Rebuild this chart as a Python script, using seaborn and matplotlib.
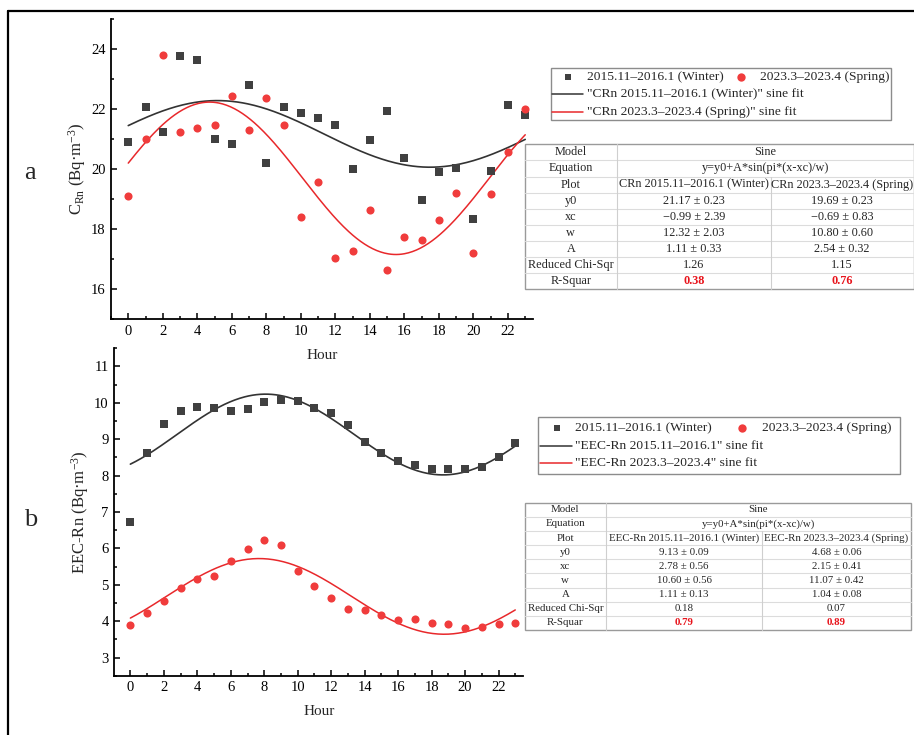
import numpy as np
import pandas as pd
import seaborn as sns
import matplotlib
matplotlib.use("Agg")
import matplotlib.pyplot as plt
from matplotlib.patches import Rectangle
from matplotlib.lines import Line2D
from matplotlib.ticker import MultipleLocator

# ---- data ----
HOURS = list(range(24))

crn_winter = [20.89, 22.05, 21.23, 23.75, 23.64, 21.00, 20.84, 22.80, 20.20, 22.08,
              21.85, 21.69, 21.45, 20.01, 20.97, 21.92, 20.38, 18.95, 19.90, 20.03,
              18.33, 19.93, 22.14, 21.81]
crn_spring = [19.11, 21.00, 23.80, 21.23, 21.35, 21.45, 22.42, 21.29, 22.36, 21.45,
              18.41, 19.57, 17.03, 17.25, 18.64, 16.62, 17.72, 17.64, 18.31, 19.20,
              17.21, 19.15, 20.56, 22.01]
eec_winter = [6.72, 8.63, 9.43, 9.78, 9.88, 9.87, 9.77, 9.84, 10.03, 10.08,
              10.05, 9.86, 9.71, 9.39, 8.93, 8.61, 8.40, 8.28, 8.17, 8.18,
              8.17, 8.24, 8.52, 8.90]
eec_spring = [3.90, 4.22, 4.56, 4.90, 5.17, 5.25, 5.65, 5.99, 6.24, 6.08,
              5.39, 4.97, 4.63, 4.33, 4.30, 4.17, 4.04, 4.06, 3.94, 3.92,
              3.82, 3.85, 3.93, 3.94]

# sine fit parameters (winter, spring) and their errors, from the tables
crn_y0, crn_y0_err = [21.17, 19.69], [0.23, 0.23]
crn_xc, crn_xc_err = [-0.99, -0.69], [2.39, 0.83]
crn_w, crn_w_err = [12.32, 10.80], [2.03, 0.60]
crn_A, crn_A_err = [1.11, 2.54], [0.33, 0.32]
crn_chi = [1.26, 1.15]
crn_r2 = [0.38, 0.76]

eec_y0, eec_y0_err = [9.13, 4.68], [0.09, 0.06]
eec_xc, eec_xc_err = [2.78, 2.15], [0.56, 0.41]
eec_w, eec_w_err = [10.60, 11.07], [0.56, 0.42]
eec_A, eec_A_err = [1.11, 1.04], [0.13, 0.08]
eec_chi = [0.18, 0.07]
eec_r2 = [0.79, 0.89]

SERIES = ["2015.11–2016.1 (Winter)", "2023.3–2023.4 (Spring)"]
CRN_PLOT = ["CRn 2015.11–2016.1 (Winter)", "CRn 2023.3–2023.4 (Spring)"]
EEC_PLOT = ["EEC-Rn 2015.11–2016.1 (Winter)", "EEC-Rn 2023.3–2023.4 (Spring)"]
CRN_FIT_LABELS = ['"CRn 2015.11–2016.1 (Winter)" sine fit', '"CRn 2023.3–2023.4 (Spring)" sine fit']
EEC_FIT_LABELS = ['"EEC-Rn 2015.11–2016.1" sine fit', '"EEC-Rn 2023.3–2023.4" sine fit']

C_SQ = "#404040"
C_CI = "#F03C3C"
C_LINE_W = "#333333"
C_LINE_S = "#E8282B"
C_RED_TXT = "#E8141C"

W, H = 914, 735

sns.set_theme(style="ticks")
plt.rcParams['font.family'] = ['Liberation Serif', 'DejaVu Serif']
plt.rcParams['mathtext.fontset'] = 'custom'
plt.rcParams['mathtext.rm'] = 'Liberation Serif'
plt.rcParams['mathtext.it'] = 'Liberation Serif:italic'


def px(x):
    return x / W


def py(y):
    return 1 - y / H


def fmt_pm(v, e):
    s = f"{v:.2f} ± {e:.2f}"
    return s.replace("-", "−")


def sine(x, y0, xc, w, A):
    return y0 + A * np.sin(np.pi * (x - xc) / w)


def draw_panel(ax, winter, spring, y0, xc, w, A, ylim, ymaj, ymin):
    df = pd.DataFrame({"hour": HOURS, "winter": winter, "spring": spring})
    sns.scatterplot(data=df, x="hour", y="winter", marker="s", color=C_SQ,
                    s=26, linewidth=0, ax=ax, zorder=3)
    sns.scatterplot(data=df, x="hour", y="spring", marker="o", color=C_CI,
                    s=34, linewidth=0, ax=ax, zorder=3)
    xf = np.linspace(HOURS[0], HOURS[-1], 300)
    fit = pd.DataFrame({"x": xf,
                        "w": sine(xf, y0[0], xc[0], w[0], A[0]),
                        "s": sine(xf, y0[1], xc[1], w[1], A[1])})
    sns.lineplot(data=fit, x="x", y="w", color=C_LINE_W, lw=1.2, ax=ax, zorder=2)
    sns.lineplot(data=fit, x="x", y="s", color=C_LINE_S, lw=1.1, ax=ax, zorder=2)
    ax.set_xlim(-1.0, 23.45)
    ax.set_ylim(*ylim)
    ax.xaxis.set_major_locator(MultipleLocator(2))
    ax.xaxis.set_minor_locator(MultipleLocator(1))
    ax.yaxis.set_major_locator(MultipleLocator(ymaj))
    ax.yaxis.set_minor_locator(MultipleLocator(ymin))
    ax.tick_params(which="both", direction="in", width=1.1, colors="black",
                   labelsize=10.5, pad=4)
    ax.tick_params(which="major", length=4)
    ax.tick_params(which="minor", length=2.5)
    for s in ["top", "right"]:
        ax.spines[s].set_visible(False)
    for s in ["left", "bottom"]:
        ax.spines[s].set_linewidth(1.3)
        ax.spines[s].set_color("black")
    ax.set_xlabel("Hour", fontsize=11, labelpad=8)
    ax.patch.set_visible(False)


def draw_legend(fig, box, marker_row_y, sq_x, sq_tx, ci_x, ci_tx, line_x0, line_x1,
                line_tx, row2_y, row3_y, fit_labels, fs=9.7):
    x0, y0, x1, y1 = box
    fig.add_artist(Rectangle((px(x0), py(y1)), px(x1) - px(x0), py(y0) - py(y1),
                             transform=fig.transFigure, fill=False,
                             ec="#8c8c8c", lw=1.0))
    fig.add_artist(Line2D([px(sq_x)], [py(marker_row_y)], marker="s", ms=5,
                          color=C_SQ, mew=0, transform=fig.transFigure))
    fig.text(px(sq_tx), py(marker_row_y), SERIES[0], fontsize=fs, va="center")
    fig.add_artist(Line2D([px(ci_x)], [py(marker_row_y)], marker="o", ms=6,
                          color=C_CI, mew=0, transform=fig.transFigure))
    fig.text(px(ci_tx), py(marker_row_y), SERIES[1], fontsize=fs, va="center")
    for yy, col, lab in [(row2_y, C_LINE_W, fit_labels[0]), (row3_y, C_LINE_S, fit_labels[1])]:
        fig.add_artist(Line2D([px(line_x0), px(line_x1)], [py(yy), py(yy)], color=col,
                              lw=1.1, transform=fig.transFigure))
        fig.text(px(line_tx), py(yy), lab, fontsize=fs, va="center")


def draw_table(fig, xe, top, rh, plots, y0, y0e, xc, xce, w, we, A, Ae, chi, r2, fs):
    rows = [("Model", "Sine", None),
            ("Equation", "y=y0+A*sin(pi*(x-xc)/w)", None),
            ("Plot", plots[0], plots[1]),
            ("y0", fmt_pm(y0[0], y0e[0]), fmt_pm(y0[1], y0e[1])),
            ("xc", fmt_pm(xc[0], xce[0]), fmt_pm(xc[1], xce[1])),
            ("w", fmt_pm(w[0], we[0]), fmt_pm(w[1], we[1])),
            ("A", fmt_pm(A[0], Ae[0]), fmt_pm(A[1], Ae[1])),
            ("Reduced Chi-Sqr", f"{chi[0]:.2f}", f"{chi[1]:.2f}"),
            ("R-Squar", f"{r2[0]:.2f}", f"{r2[1]:.2f}")]
    n = len(rows)
    bottom = top + n * rh
    # inner grid
    for i in range(1, n):
        yy = top + i * rh
        fig.add_artist(Line2D([px(xe[0]), px(xe[3])], [py(yy), py(yy)], color="#dcdcdc",
                              lw=0.8, transform=fig.transFigure))
    fig.add_artist(Line2D([px(xe[1]), px(xe[1])], [py(top), py(bottom)], color="#cfcfcf",
                          lw=0.8, transform=fig.transFigure))
    fig.add_artist(Line2D([px(xe[2]), px(xe[2])], [py(top + 2 * rh), py(bottom)],
                          color="#cfcfcf", lw=0.8, transform=fig.transFigure))
    fig.add_artist(Rectangle((px(xe[0]), py(bottom)), px(xe[3]) - px(xe[0]),
                             py(top) - py(bottom), transform=fig.transFigure,
                             fill=False, ec="#9a9a9a", lw=1.0))
    for i, (c0, c1, c2) in enumerate(rows):
        yc = py(top + (i + 0.5) * rh)
        fig.text(px((xe[0] + xe[1]) / 2), yc, c0, fontsize=fs, ha="center", va="center")
        red = dict(color=C_RED_TXT, weight="bold") if c0 == "R-Squar" else {}
        if c2 is None:
            fig.text(px((xe[1] + xe[3]) / 2), yc, c1, fontsize=fs, ha="center", va="center")
        else:
            fig.text(px((xe[1] + xe[2]) / 2), yc, c1, fontsize=fs, ha="center",
                     va="center", **red)
            fig.text(px((xe[2] + xe[3]) / 2), yc, c2, fontsize=fs, ha="center",
                     va="center", **red)


def create_plot():
    fig = plt.figure(figsize=(W / 100, H / 100), dpi=100)
    fig.patch.set_facecolor("white")

    ax_a = fig.add_axes([px(111), py(319), px(533) - px(111), py(19) - py(319)])
    draw_panel(ax_a, crn_winter, crn_spring, crn_y0, crn_xc, crn_w, crn_A,
               (15, 25), 2, 1)
    ax_a.set_ylabel(r"C$_{\mathrm{Rn}}$ (Bq·m$^{-3}$)", fontsize=12)
    ax_a.yaxis.set_label_coords(-0.055, 0.5)

    ax_b = fig.add_axes([px(114.3), py(675.7), px(523.3) - px(114.3), py(348.3) - py(675.7)])
    draw_panel(ax_b, eec_winter, eec_spring, eec_y0, eec_xc, eec_w, eec_A,
               (2.5, 11.5), 1, 0.5)
    ax_b.set_ylabel(r"EEC-Rn (Bq·m$^{-3}$)", fontsize=12)
    ax_b.yaxis.set_label_coords(-0.056, 0.5)
    ax_b.set_xlim(-0.96, 23.48)

    fig.text(px(30), py(173), "a", fontsize=19, ha="center", va="center")
    fig.text(px(31), py(520), "b", fontsize=19, ha="center", va="center")

    draw_legend(fig, (550.7, 68.3, 890.7, 120), 77.3, 567.7, 586.7, 741, 760,
                552.3, 583.3, 586.7, 94.3, 111.7, CRN_FIT_LABELS)
    draw_legend(fig, (538.3, 417.3, 900, 474), 428.3, 556.7, 575, 741.7, 761.7,
                540, 571.7, 575, 445.7, 463.3, EEC_FIT_LABELS)

    draw_table(fig, [525, 616.7, 770.7, 913.5], 144.3, 16.1, CRN_PLOT,
               crn_y0, crn_y0_err, crn_xc, crn_xc_err, crn_w, crn_w_err,
               crn_A, crn_A_err, crn_chi, crn_r2, 8.8)
    draw_table(fig, [524.7, 606, 762.3, 910.7], 502.7, 14.15, EEC_PLOT,
               eec_y0, eec_y0_err, eec_xc, eec_xc_err, eec_w, eec_w_err,
               eec_A, eec_A_err, eec_chi, eec_r2, 7.8)

    # outer frame (top and left edges visible in the reference)
    fig.add_artist(Line2D([px(8), 1.0], [py(10.5), py(10.5)], color="black", lw=1.6,
                          transform=fig.transFigure))
    fig.add_artist(Line2D([px(8), px(8)], [py(10.5), 0.0], color="black", lw=1.6,
                          transform=fig.transFigure))

    fig.savefig("out.png", dpi=100, facecolor="white")
    print("Saved out.png")


if __name__ == "__main__":
    create_plot()
